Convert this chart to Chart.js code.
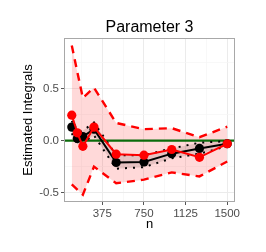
<!DOCTYPE html>
<html>
<head>
<meta charset="utf-8">
<script src="https://cdn.jsdelivr.net/npm/chart.js@4"></script>
<style>
html,body{margin:0;padding:0;background:#fff;}
canvas{display:block;}
</style>
</head>
<body>
<canvas id="c" width="266" height="252"></canvas>
<script>
// ---- data ----
const nValues = [100, 150, 200, 300, 500, 750, 1000, 1250, 1500];
const redEstimate = [0.245, 0.075, -0.055, 0.13, -0.13, -0.14, -0.085, -0.16, -0.03];
const blackEstimate = [0.13, 0.02, 0.04, 0.11, -0.21, -0.205, -0.125, -0.075, -0.03];
const redUpper = [0.915, 0.66, 0.41, 0.51, 0.17, 0.11, 0.12, 0.033, 0.134];
const redLower = [-0.42, -0.47, -0.52, -0.25, -0.41, -0.375, -0.305, -0.344, -0.20];
const blackUpper = [0.19, 0.075, 0.095, 0.175, -0.14, -0.14, -0.075, -0.02, -0.005];
const blackLower = [0.07, -0.035, -0.015, 0.05, -0.27, -0.255, -0.17, -0.125, -0.055];
const referenceValue = 0;
const xTicks = [187.5, 375, 562.5, 750, 937.5, 1125, 1312.5, 1500];
const xMajor = [375, 750, 1125, 1500];
const yTicks = [-0.5, -0.25, 0, 0.25, 0.5, 0.75];
const yMajor = [-0.5, 0, 0.5];
const X_MIN = 30, X_MAX = 1570, Y_MIN = -0.59, Y_MAX = 0.987;
const titleText = "Parameter 3";
const xTitle = "n";
const yTitle = "Estimated Integrals";

const FONT = "'Liberation Sans', Arial, Helvetica, sans-serif";
const pts = arr => arr.map((v, i) => ({x: nValues[i], y: v}));

const base = {pointRadius: 0, pointHoverRadius: 0, tension: 0, fill: false};

const datasets = [
  Object.assign({}, base, {data: pts(redEstimate), borderColor: '#ff0000', borderWidth: 2,
    pointRadius: 4.6, pointBackgroundColor: '#ff0000', pointBorderWidth: 0}),
  Object.assign({}, base, {data: pts(blackEstimate), borderColor: '#000000', borderWidth: 2,
    pointRadius: 4.6, pointBackgroundColor: '#000000', pointBorderWidth: 0}),
  Object.assign({}, base, {data: pts(redUpper), borderColor: '#ff0000', borderWidth: 2.4, borderDash: [8, 6]}),
  Object.assign({}, base, {data: pts(redLower), borderColor: '#ff0000', borderWidth: 2.4, borderDash: [8, 6]}),
  Object.assign({}, base, {data: pts(blackUpper), borderColor: '#000000', borderWidth: 2, borderDash: [2, 6]}),
  Object.assign({}, base, {data: pts(blackLower), borderColor: '#000000', borderWidth: 2, borderDash: [2, 6]}),
  Object.assign({}, base, {data: [{x: X_MIN, y: referenceValue}, {x: X_MAX, y: referenceValue}], borderColor: '#0b6b0b', borderWidth: 2.2}),
  Object.assign({}, base, {data: pts(blackUpper), borderWidth: 0, borderColor: 'rgba(0,0,0,0)', fill: '+1', backgroundColor: 'rgba(60,30,30,0.13)'}),
  Object.assign({}, base, {data: pts(blackLower), borderWidth: 0, borderColor: 'rgba(0,0,0,0)'}),
  Object.assign({}, base, {data: pts(redUpper), borderWidth: 0, borderColor: 'rgba(0,0,0,0)', fill: '+1', backgroundColor: 'rgba(255,0,0,0.15)'}),
  Object.assign({}, base, {data: pts(redLower), borderWidth: 0, borderColor: 'rgba(0,0,0,0)'})
];

const isMajor = (list, v) => list.some(m => Math.abs(m - v) < 1e-9);

const decor = {
  id: 'decor',
  afterDraw(chart) {
    const ctx = chart.ctx, a = chart.chartArea;
    ctx.save();
    ctx.strokeStyle = '#a8a8a8';
    ctx.lineWidth = 1;
    ctx.strokeRect(a.left + 0.5, a.top + 0.5, a.right - a.left - 1, a.bottom - a.top - 1);
    ctx.fillStyle = '#000';
    ctx.textAlign = 'center';
    ctx.textBaseline = 'middle';
    const cx = (a.left + a.right) / 2;
    ctx.font = '16px ' + FONT;
    ctx.fillText(titleText, cx, 27.5);
    ctx.font = '13px ' + FONT;
    ctx.fillText(xTitle, cx, 224);
    ctx.translate(28, (a.top + a.bottom) / 2);
    ctx.rotate(-Math.PI / 2);
    ctx.fillText(yTitle, 0, 0);
    ctx.restore();
  }
};

new Chart(document.getElementById('c'), {
  type: 'line',
  data: {datasets},
  plugins: [decor],
  options: {
    responsive: false,
    animation: false,
    events: [],
    layout: {padding: {left: 0, right: 31, top: 38, bottom: 0}},
    plugins: {legend: {display: false}, tooltip: {enabled: false}, title: {display: false}},
    scales: {
      x: {
        type: 'linear', min: X_MIN, max: X_MAX,
        afterBuildTicks: s => { s.ticks = xTicks.map(v => ({value: v})); },
        afterFit: s => { s.height = 50; },
        border: {display: false},
        grid: {
          color: c => isMajor(xMajor, c.tick.value) ? '#ebebeb' : '#f5f5f5',
          lineWidth: c => isMajor(xMajor, c.tick.value) ? 1 : 0.7,
          tickColor: c => isMajor(xMajor, c.tick.value) ? '#555' : 'rgba(0,0,0,0)',
          tickLength: 3, drawTicks: true
        },
        ticks: {
          autoSkip: false, maxRotation: 0, padding: 2, color: '#4d4d4d',
          font: {family: FONT, size: 11.5},
          callback: v => isMajor(xMajor, v) ? String(v) : ''
        }
      },
      y: {
        type: 'linear', min: Y_MIN, max: Y_MAX,
        afterBuildTicks: s => { s.ticks = yTicks.map(v => ({value: v})); },
        afterFit: s => { s.width = 64; },
        border: {display: false},
        grid: {
          color: c => isMajor(yMajor, c.tick.value) ? '#ebebeb' : '#f5f5f5',
          lineWidth: c => isMajor(yMajor, c.tick.value) ? 1 : 0.7,
          tickColor: c => isMajor(yMajor, c.tick.value) ? '#555' : 'rgba(0,0,0,0)',
          tickLength: 3, drawTicks: true
        },
        ticks: {
          autoSkip: false, padding: 2, color: '#4d4d4d',
          font: {family: FONT, size: 11.5},
          callback: v => isMajor(yMajor, v) ? v.toFixed(1) : ''
        }
      }
    }
  }
});
</script>
</body>
</html>
